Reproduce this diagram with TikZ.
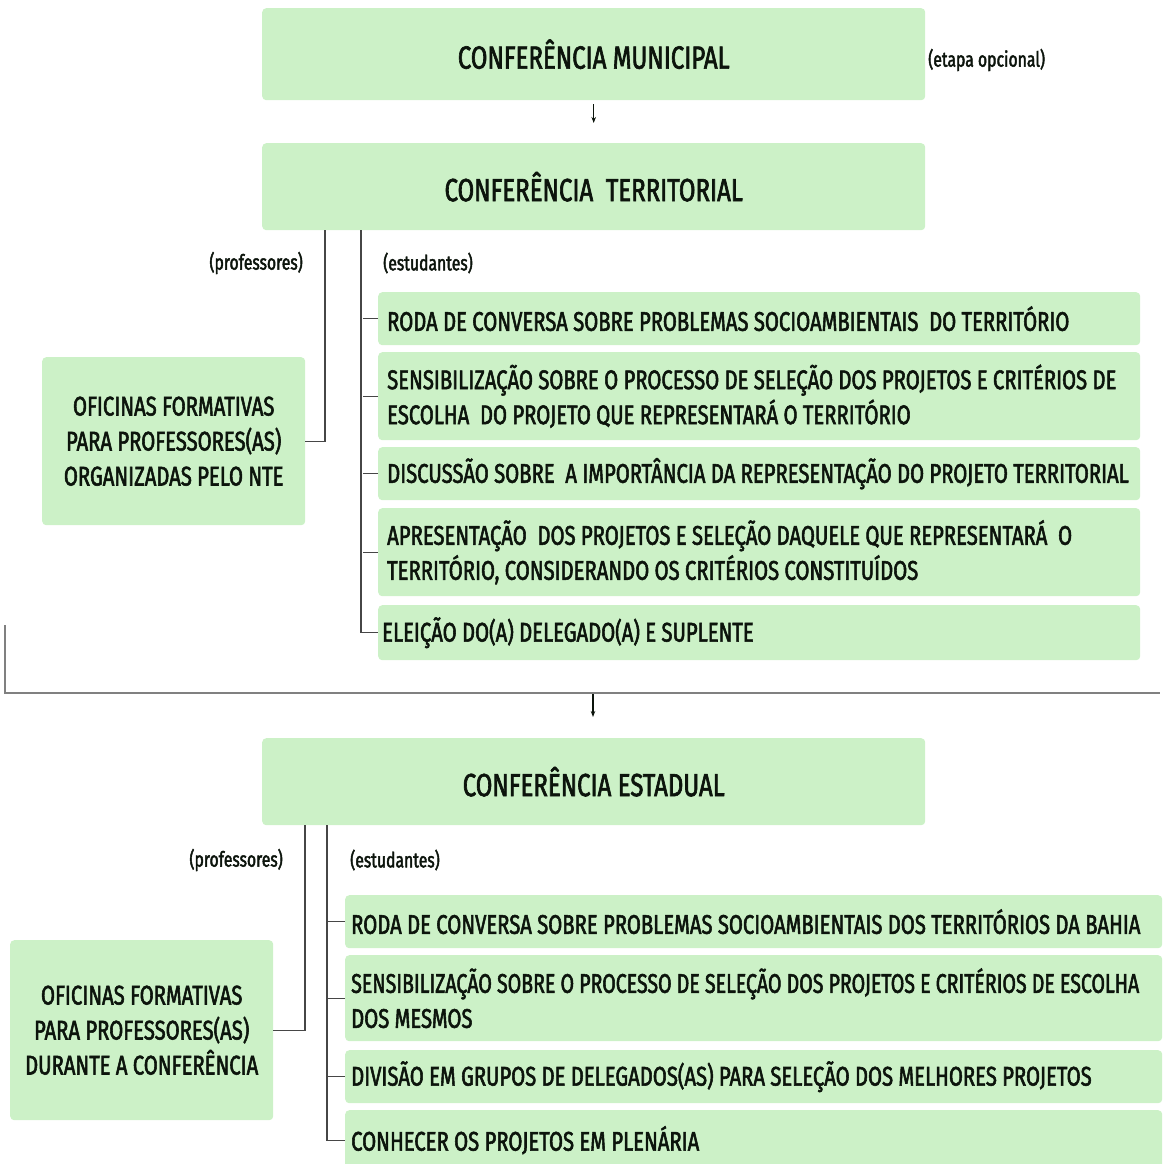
\documentclass[tikz,border=0pt]{standalone}
\usepackage{graphicx}
\usepackage{fontspec}
\setmainfont[FakeStretch=0.75, FakeBold=2]{Fira Sans}
\usetikzlibrary{arrows.meta}
\definecolor{boxgreen}{RGB}{204,241,199}
\definecolor{ink}{RGB}{12,20,12}
\definecolor{linegray}{RGB}{70,70,70}
\tikzset{
  every node/.style={text=ink},
  box/.style={fill=boxgreen, rounded corners=4pt, inner sep=0pt, anchor=north west},
  titlebox/.style={box, font=\fontsize{32}{38}\selectfont, align=center},
  itembox/.style={box, font=\fontsize{27}{35}\selectfont, align=flush left, inner xsep=9pt},
  sidebox/.style={box, font=\fontsize{27}{35}\selectfont, align=center},
  tag/.style={font=\fontsize{21}{24}\selectfont, inner sep=0pt},
  conn/.style={draw=linegray, line width=1.4pt},
  arr/.style={draw=ink, line width=1.1pt, -{Stealth[length=6pt,width=4.5pt]}}
}
\begin{document}
\begin{tikzpicture}[x=1pt,y=-1pt]
\useasboundingbox (0,0) rectangle (1162,1164);
% ---- top
\node[titlebox, minimum width=663pt, minimum height=92pt] (mun) at (262,8) {CONFERÊNCIA MUNICIPAL};
\node[tag, anchor=west] (opc) at (928,60) {(etapa opcional)};
\node[titlebox, minimum width=663pt, minimum height=87pt] (ter) at (262,143) {CONFERÊNCIA\ \ TERRITORIAL};
\draw[arr] ([yshift=-4pt]mun.south) -- ([yshift=20pt]ter.north);
% left branch
\node[tag, anchor=east] (prof1) at (303,263) {(professores)};
\node[tag, anchor=west] (est1) at (383,263) {(estudantes)};
\node[sidebox, minimum width=263pt, minimum height=168pt] (of1) at (42,357) {OFICINAS FORMATIVAS\\PARA PROFESSORES(AS)\\ORGANIZADAS PELO NTE};
% right items
\node[itembox, text width=744pt, minimum height=53pt] (t1) at (378,292) {RODA DE CONVERSA SOBRE PROBLEMAS SOCIOAMBIENTAIS\ \ DO TERRITÓRIO};
\node[itembox, text width=744pt, minimum height=88pt] (t2) at (378,352) {SENSIBILIZAÇÃO SOBRE O PROCESSO DE SELEÇÃO DOS PROJETOS E CRITÉRIOS DE\\ESCOLHA\ \ DO PROJETO QUE REPRESENTARÁ O TERRITÓRIO};
\node[itembox, text width=744pt, minimum height=53pt] (t3) at (378,447) {DISCUSSÃO SOBRE\ \ A IMPORTÂNCIA DA REPRESENTAÇÃO DO PROJETO TERRITORIAL};
\node[itembox, text width=744pt, minimum height=88pt] (t4) at (378,508) {APRESENTAÇÃO\ \ DOS PROJETOS E SELEÇÃO DAQUELE QUE REPRESENTARÁ\ \ O\\TERRITÓRIO, CONSIDERANDO OS CRITÉRIOS CONSTITUÍDOS};
\node[itembox, text width=754pt, minimum height=55pt, inner xsep=4pt] (t5) at (378,605) {ELEIÇÃO DO(A) DELEGADO(A) E SUPLENTE};
\draw[conn] ([xshift=63pt]ter.south west) |- (of1.east);
\draw[conn] ([xshift=99pt]ter.south west) |- (t5.west);
\foreach \n in {t1,t2,t3,t4} \draw[conn] (\n.west) -- ++(-15,0);
% separator line
\coordinate (sepA) at (5,625);
\coordinate (sepB) at (5,693);
\coordinate (sepC) at (1160,693);
\draw[conn, draw=gray, line width=2pt] (sepA) -- (sepB) -- (sepC);
% ---- estadual
\node[titlebox, minimum width=663pt, minimum height=87pt] (est) at (262,738) {CONFERÊNCIA ESTADUAL};
\coordinate (arS) at (593,694);
\coordinate (arE) at (593,717);
\draw[arr] (arS) -- (arE);
\node[tag, anchor=east] (prof2) at (283,860) {(professores)};
\node[tag, anchor=west] (est2) at (350,860) {(estudantes)};
\node[sidebox, minimum width=263pt, minimum height=180pt] (of2) at (10,940) {OFICINAS FORMATIVAS\\PARA PROFESSORES(AS)\\DURANTE A CONFERÊNCIA};
\node[itembox, text width=805pt, minimum height=53pt, inner xsep=6pt] (s1) at (345,895) {RODA DE CONVERSA SOBRE PROBLEMAS SOCIOAMBIENTAIS DOS TERRITÓRIOS DA BAHIA};
\node[itembox, text width=805pt, minimum height=86pt, inner xsep=6pt] (s2) at (345,955) {\scalebox{0.965}[1]{SENSIBILIZAÇÃO SOBRE O PROCESSO DE SELEÇÃO DOS PROJETOS E CRITÉRIOS DE ESCOLHA}\\DOS MESMOS};
\node[itembox, text width=805pt, minimum height=53pt, inner xsep=6pt] (s3) at (345,1050) {DIVISÃO EM GRUPOS DE DELEGADOS(AS) PARA SELEÇÃO DOS MELHORES PROJETOS};
\node[itembox, text width=805pt, minimum height=60pt, inner xsep=6pt] (s4) at (345,1110) {CONHECER OS PROJETOS EM PLENÁRIA};
\draw[conn] ([xshift=43pt]est.south west) |- (of2.east);
\draw[conn] ([xshift=65pt]est.south west) |- (s4.west);
\foreach \n in {s1,s2,s3} \draw[conn] (\n.west) -- ++(-18,0);
\end{tikzpicture}
\end{document}
